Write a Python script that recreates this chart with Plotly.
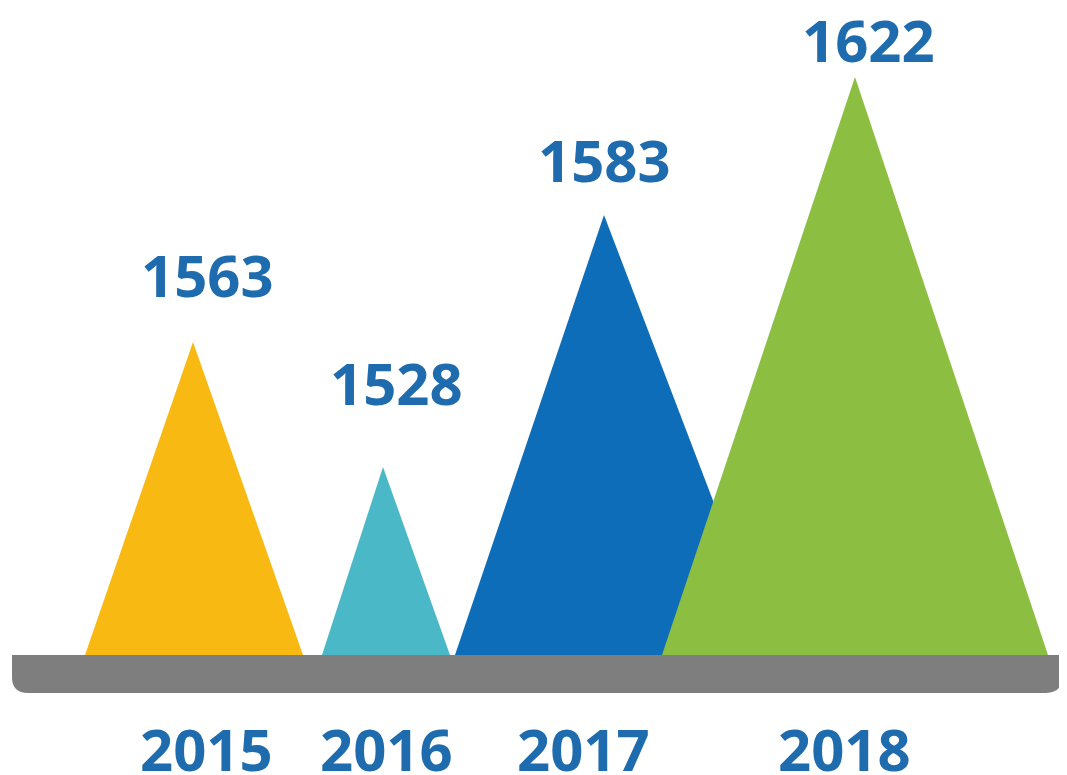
import plotly.graph_objects as go

# ---- data ----
years = ["2015", "2016", "2017", "2018"]
values = [1563, 1528, 1583, 1622]
# drawn mountain heights above the ground line (as in the infographic)
peak_heights = [313, 188, 440, 578]

# ---- layout / style constants ----
colors = ["#F8BA12", "#4AB8C6", "#0E6DB8", "#8BBE41"]
apex_x = [193, 383, 604, 855]
base_left = [85, 322, 455, 662]
base_right = [303, 450, 772, 1048]
value_label_x = [207, 396, 604, 868]
value_label_gap = [68, 85, 56, 38]
year_label_x = [206, 386, 583, 844]
year_label_y = -93
text_color = "#1E6BAE"
ground_color = "#7E7E7E"
FONT = dict(family="Open Sans", size=58, color=text_color, weight=700)

fig = go.Figure()

for i, yr in enumerate(years):
    fig.add_trace(go.Scatter(
        x=[base_left[i], apex_x[i], base_right[i], base_left[i]],
        y=[0, peak_heights[i], 0, 0],
        mode="lines",
        fill="toself",
        fillcolor=colors[i],
        line=dict(width=0, color=colors[i]),
        name=yr,
        hoverinfo="text",
        text=f"{yr}: {values[i]}",
        showlegend=False,
    ))
    fig.add_annotation(
        x=value_label_x[i], y=peak_heights[i] + value_label_gap[i],
        text=str(values[i]), showarrow=False, font=FONT,
        xanchor="center", yanchor="middle",
    )
    fig.add_annotation(
        x=year_label_x[i], y=year_label_y,
        text=yr, showarrow=False, font=FONT,
        xanchor="center", yanchor="middle",
    )

# ground bar with rounded lower corners
fig.add_shape(
    type="path",
    path="M 12,0 L 1062,0 L 1062,-22 Q 1062,-38 1046,-38 L 28,-38 Q 12,-38 12,-22 Z",
    fillcolor=ground_color, line=dict(width=0), layer="below",
)

# axis ranges compensate for the 8px page margin around the figure
fig.update_layout(
    width=1067, height=775, autosize=False,
    margin=dict(l=0, r=0, t=0, b=0),
    paper_bgcolor="white", plot_bgcolor="white",
    xaxis=dict(range=[8, 1075], visible=False, fixedrange=True),
    yaxis=dict(range=[-128, 647], visible=False, fixedrange=True),
)

fig.write_html("out.html")
